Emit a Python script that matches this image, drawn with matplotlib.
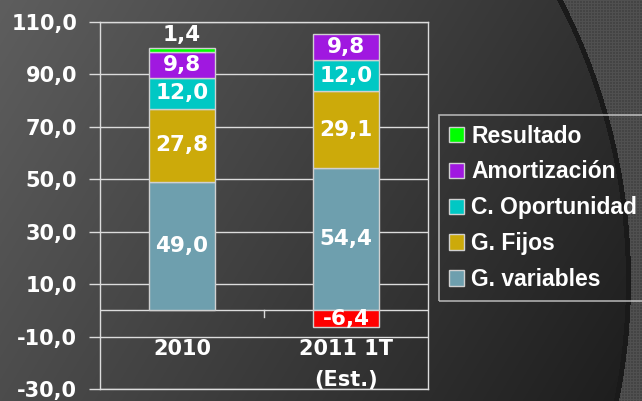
import numpy as np
import matplotlib
matplotlib.use("Agg")
import matplotlib.pyplot as plt
from matplotlib.patches import Patch

# ---- data ----
categories = ["2010", "2011 1T\n(Est.)"]
g_variables = [49.0, 54.4]
g_fijos = [27.8, 29.1]
c_oportunidad = [12.0, 12.0]
amortizacion = [9.8, 9.8]
resultado = [1.4, -6.4]
y_ticks = [-30, -10, 10, 30, 50, 70, 90, 110]

series_names = ["G. variables", "G. Fijos", "C. Oportunidad", "Amortización", "Resultado"]
series_vals = [g_variables, g_fijos, c_oportunidad, amortizacion, resultado]
colors = ["#6E9FAE", "#CCAA0A", "#00C8C4", "#A018E0", "#00FF00"]
neg_color = "#FF0000"

W, H = 642, 401
FS = 15
plt.rcParams["font.family"] = ["DejaVu Sans"]
fig = plt.figure(figsize=(W / 100, H / 100), dpi=100)

# ---- background ----
bg = fig.add_axes([0, 0, 1, 1], zorder=-10)
yy, xx = np.mgrid[0:H, 0:W]
v = (94 - xx / W * 48 - yy / H * 18) / 255.0
dist = np.sqrt((xx - 20.0) ** 2 + (yy - 280.0) ** 2)
R = 608.0
tex = np.where((xx % 3 == 0) | (yy % 3 == 0), 0x50, 0x44) / 255.0
img = np.where(dist > R, tex, v)
img = np.where(np.abs(dist - R) < 2.5, 0x1a / 255.0, img)
bg.imshow(np.dstack([img, img, img]), aspect="auto", interpolation="nearest",
          extent=[0, W, H, 0])
bg.set_axis_off()

# ---- main axes ----
ax = fig.add_axes([100 / W, 1 - 389 / H, 328 / W, 367 / H])
ax.set_facecolor("none")
grid_c = "#dcdcdc"
for s in ax.spines.values():
    s.set_color(grid_c)
    s.set_linewidth(1.0)
ax.set_ylim(-30, 110)
ax.set_xlim(-0.5, 1.5)
ax.set_yticks(y_ticks)
ax.set_yticklabels([f"{t:.1f}".replace(".", ",") for t in y_ticks])
ax.tick_params(axis="y", colors=grid_c, length=8, width=1, labelsize=FS,
               labelcolor="white", pad=8.5)
for lbl in ax.get_yticklabels():
    lbl.set_fontweight("bold")
ax.set_xticks([])
for t in y_ticks:
    ax.axhline(t, color=grid_c, lw=1.0, zorder=1)
ax.axhline(0, color=grid_c, lw=1.0, zorder=1)
ax.plot([0.5, 0.5], [0, -2.7], color=grid_c, lw=1.0, zorder=1)

x = np.arange(len(categories))
width = 0.4
pos_bottom = np.zeros(len(categories))
for name, vals, col in zip(series_names, series_vals, colors):
    for i, val in enumerate(vals):
        if val >= 0:
            b = pos_bottom[i]
            c = col
            pos_bottom[i] += val
        else:
            b = 0
            c = neg_color
        ax.bar(x[i], val, width=width, bottom=b, color=c,
               edgecolor="#d0d0d0", linewidth=1.0, zorder=3)
        label = f"{val:.1f}".replace(".", ",")
        if abs(val) < 3 and val > 0:
            ty = b + val + 5.0
        else:
            ty = b + val / 2
        ax.text(x[i], ty, label, ha="center", va="center", color="white",
                fontsize=15.5, fontweight="bold", zorder=5)

# category labels
for i, cat in enumerate(categories):
    lines = cat.split("\n")
    ax.text(x[i], -14.7, lines[0], ha="center", va="center", color="white",
            fontsize=FS, fontweight="bold")
    if len(lines) > 1:
        ax.text(x[i], -26.6, lines[1], ha="center", va="center", color="white",
                fontsize=FS, fontweight="bold")

# legend
handles = []
for name, col in reversed(list(zip(series_names, colors))):
    handles.append(Patch(facecolor=col, edgecolor="#d0d0d0", linewidth=1.0, label=name))
leg = fig.legend(handles=handles, loc="upper left",
                 bbox_to_anchor=(439 / W, 1 - 115 / H), borderaxespad=0,
                 frameon=True, fancybox=False,
                 prop={"family": "Liberation Sans", "size": 16.5, "weight": "bold"},
                 handlelength=0.66, handleheight=0.66, handletextpad=0.32,
                 labelspacing=0.56, borderpad=0.42, labelcolor="white")
leg.get_frame().set_facecolor("none")
leg.get_frame().set_edgecolor("#d0d0d0")
leg.get_frame().set_linewidth(1.2)

fig.savefig("out.png", dpi=100)
